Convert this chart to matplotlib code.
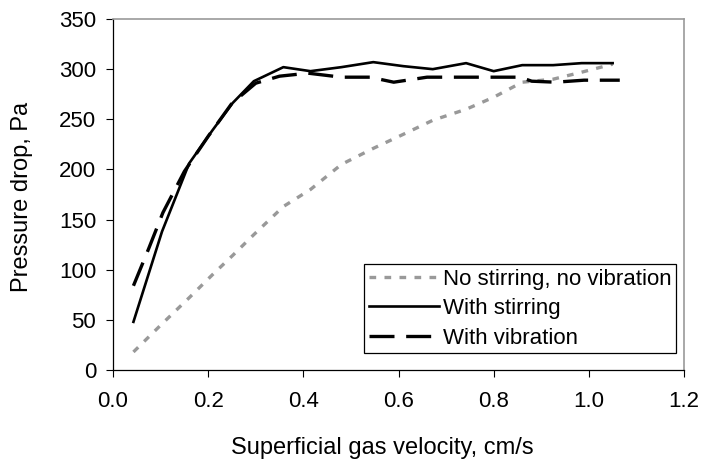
import matplotlib
matplotlib.use("Agg")
import matplotlib.pyplot as plt

plt.rcParams['font.family'] = ['Liberation Sans', 'DejaVu Sans']

# Data
x_plain = [0.043, 0.103, 0.16, 0.209, 0.251, 0.296, 0.358, 0.415, 0.48, 0.547,
           0.61, 0.672, 0.742, 0.80, 0.86, 0.925, 0.985, 1.05]
y_plain = [18, 46, 72, 95, 114, 135, 163, 180, 205, 221,
           235, 249, 260, 272, 287, 290, 297, 305]

x_stir = [0.043, 0.103, 0.16, 0.209, 0.251, 0.296, 0.358, 0.415, 0.48, 0.547,
          0.61, 0.672, 0.742, 0.80, 0.86, 0.925, 0.985, 1.05]
y_stir = [48, 138, 206, 239, 266, 288, 302, 298, 302, 307,
          303, 300, 306, 298, 304, 304, 306, 306]

x_vib = [0.043, 0.075, 0.105, 0.15, 0.2, 0.25, 0.3, 0.35, 0.41, 0.48,
         0.54, 0.59, 0.66, 0.73, 0.80, 0.855, 0.88, 0.93, 0.99, 1.065]
y_vib = [84, 121, 157, 198, 233, 266, 286, 293, 296, 292,
         292, 287, 292, 292, 292, 292, 288, 287, 289, 289]

labels = ["No stirring, no vibration", "With stirring", "With vibration"]
x_ticks = [0.0, 0.2, 0.4, 0.6, 0.8, 1.0, 1.2]
y_ticks = [0, 50, 100, 150, 200, 250, 300, 350]

fig = plt.figure(figsize=(7.07, 4.65), dpi=100)
ax = fig.add_axes([0.1598, 0.2043, 0.8077, 0.7548])

ax.plot(x_plain, y_plain, color='#999999', lw=2.4, dashes=(2.0, 2.5),
        dash_capstyle='butt', label=labels[0])
ax.plot(x_stir, y_stir, color='black', lw=1.9, label=labels[1])
ax.plot(x_vib, y_vib, color='black', lw=2.4, dashes=(7.5, 3.5),
        dash_capstyle='butt', label=labels[2])

ax.set_xlim(0, 1.2)
ax.set_ylim(0, 350)
ax.set_xticks(x_ticks)
ax.set_xticklabels([f"{v:.1f}" for v in x_ticks])
ax.set_yticks(y_ticks)
ax.set_yticklabels([str(v) for v in y_ticks])
ax.tick_params(axis='both', direction='out', length=5, width=0.8,
               labelsize=16, colors='black')
ax.tick_params(axis='x', pad=10)
ax.tick_params(axis='y', pad=7)

for s in ['left', 'bottom']:
    ax.spines[s].set_color('black')
    ax.spines[s].set_linewidth(0.9)
for s in ['top', 'right']:
    ax.spines[s].set_color('#999999')
    ax.spines[s].set_linewidth(1.2)

ax.set_xlabel("Superficial gas velocity, cm/s", fontsize=17)
ax.xaxis.set_label_coords(0.472, -0.192)
ax.set_ylabel("Pressure drop, Pa", fontsize=17)
ax.yaxis.set_label_coords(-0.14, 0.494)

leg = ax.legend(loc='lower right', bbox_to_anchor=(0.986, 0.048),
                fontsize=16, frameon=True, fancybox=False,
                edgecolor='black', borderpad=0.2, handlelength=3.15,
                handletextpad=0.2, labelspacing=0.38, borderaxespad=0,
                framealpha=1)
leg.get_frame().set_linewidth(0.9)

fig.savefig("out.png", dpi=100)
